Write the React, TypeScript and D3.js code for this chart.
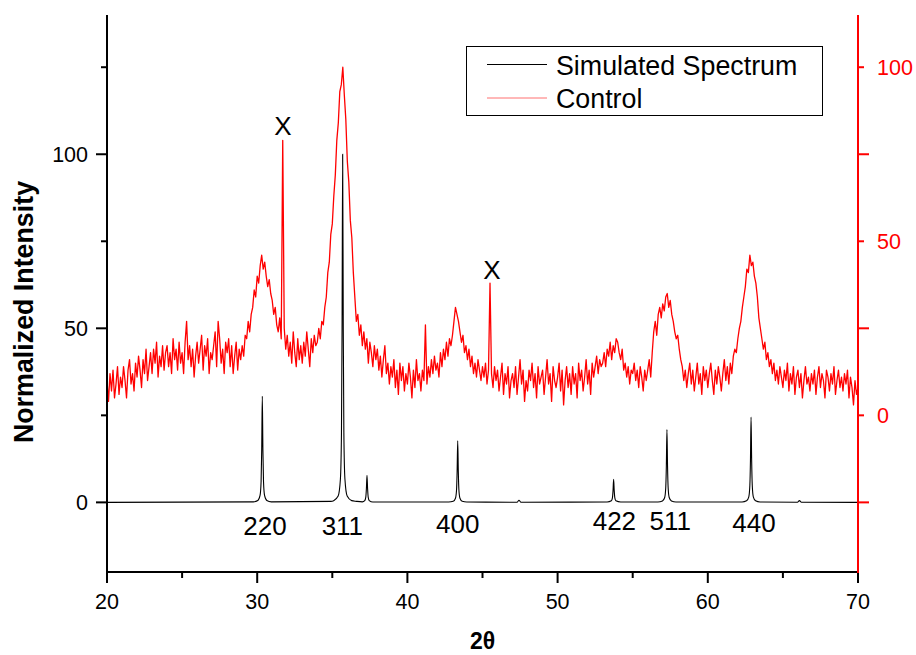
import React from "react";
import * as d3 from "d3";

// ---------- DATA ----------
// Simulated spectrum: [2θ, normalized intensity] (left axis)
const simulated: [number, number][] = [
  [20, 0], [29.74, 0.15], [30.04, 0.55], [30.19, 2], [30.26, 6], [30.3, 15], [30.34, 30.5], [30.38, 15], [30.42, 6], [30.49, 2], [30.64, 0.55], [30.94, 0.15],
  [34.9, 0.3], [35.09, 0.5], [35.39, 1.8], [35.54, 6.7], [35.61, 20], [35.65, 50], [35.69, 100], [35.73, 50], [35.77, 20], [35.84, 6.7], [35.99, 1.8], [36.29, 0.5], [36.6, 0.3],
  [37.0, 0.15], [37.16, 0.5], [37.23, 1.5], [37.27, 3.9], [37.31, 7.8], [37.35, 3.9], [37.39, 1.5], [37.46, 0.5], [37.7, 0.1],
  [42.75, 0.1], [43.05, 0.3], [43.2, 1.2], [43.27, 3.5], [43.31, 8.8], [43.35, 17.7], [43.39, 8.8], [43.43, 3.5], [43.5, 1.2], [43.65, 0.3], [43.95, 0.1],
  [47.3, 0.05], [47.43, 0.6], [47.56, 0.05],
  [53.3, 0.1], [53.58, 0.45], [53.65, 1.3], [53.69, 3.3], [53.73, 6.6], [53.77, 3.3], [53.81, 1.3], [53.88, 0.45], [54.2, 0.1],
  [56.68, 0.1], [56.98, 0.4], [57.13, 1.4], [57.2, 4.2], [57.24, 10.4], [57.28, 20.9], [57.32, 10.4], [57.36, 4.2], [57.43, 1.4], [57.58, 0.4], [57.88, 0.1],
  [62.28, 0.12], [62.58, 0.45], [62.73, 1.6], [62.8, 4.9], [62.84, 12], [62.88, 24.5], [62.92, 12], [62.96, 4.9], [63.03, 1.6], [63.18, 0.45], [63.48, 0.12],
  [65.97, 0.05], [66.1, 0.5], [66.23, 0.05], [70, 0],
];

// Control spectrum (right axis), sampled every 0.1° from 20° to 70°
const controlStart = 20;
const controlStep = 0.1;
const control: number[] = [
  10, 4, 12, 7, 13, 5, 9, 14, 6, 11, // 20
  8, 14, 10, 5, 13, 16, 9, 12, 7, 15, // 21
  11, 17, 13, 8, 16, 12, 19, 10, 14, 18, // 22
  12, 19, 15, 21, 11, 17, 14, 20, 13, 18, // 23
  20, 14, 18, 12, 22, 16, 19, 13, 21, 15, // 24
  18, 12, 21, 27, 16, 20, 14, 19, 11, 17, // 25
  21, 15, 19, 23, 13, 20, 17, 22, 12, 18, // 26
  16, 20, 24, 14, 27, 22, 15, 19, 12, 21, // 27
  18, 22, 14, 20, 12, 17, 21, 13, 19, 16, // 28
  20, 17, 23, 22, 27, 24, 29, 31, 36, 34, // 29
  40, 38, 43, 46, 42, 44, 40, 37, 39, 35, // 30
  33, 29, 31, 26, 24, 28, 22, 79, 25, 19, // 31
  23, 17, 21, 15, 24, 18, 14, 22, 16, 20, // 32
  15, 21, 17, 24, 19, 14, 22, 18, 23, 20, // 33
  21, 25, 22, 27, 26, 31, 34, 41, 44, 52, // 34
  55, 63, 69, 79, 84, 93, 95, 100, 92, 85, // 35
  73, 67, 56, 51, 41, 34, 27, 29, 23, 26, // 36
  20, 24, 19, 22, 15, 21, 18, 14, 20, 16, // 37
  19, 13, 17, 11, 16, 20, 12, 15, 9, 14, // 38
  11, 16, 8, 13, 6, 15, 10, 14, 7, 12, // 39
  9, 15, 11, 5, 13, 8, 16, 10, 12, 7, // 40
  13, 10, 26, 9, 14, 11, 16, 12, 17, 13, // 41
  15, 11, 18, 14, 19, 16, 21, 17, 22, 20, // 42
  23, 27, 31, 29, 27, 24, 21, 23, 18, 20, // 43
  16, 19, 14, 17, 12, 15, 11, 16, 13, 10, // 44
  14, 11, 15, 9, 13, 38, 12, 8, 14, 10, // 45
  13, 7, 11, 15, 6, 12, 9, 14, 5, 10, // 46
  12, 8, 14, 6, 11, 16, 9, 13, 4, 10, // 47
  7, 13, 10, 15, 8, 12, 5, 14, 9, 11, // 48
  13, 6, 11, 16, 9, 12, 4, 14, 10, 8, // 49
  11, 15, 7, 13, 3, 10, 14, 8, 12, 6, // 50
  14, 9, 12, 5, 15, 10, 13, 7, 11, 16, // 51
  9, 13, 6, 15, 11, 14, 17, 12, 16, 14, // 52
  15, 18, 14, 19, 17, 21, 16, 20, 18, 22, // 53
  21, 18, 16, 19, 13, 15, 11, 14, 9, 13, // 54
  12, 15, 10, 13, 8, 14, 11, 7, 13, 10, // 55
  13, 16, 11, 18, 24, 27, 23, 29, 31, 28, // 56
  32, 30, 34, 35, 31, 33, 29, 27, 24, 22, // 57
  23, 19, 16, 14, 10, 13, 8, 12, 15, 9, // 58
  13, 7, 11, 15, 9, 12, 6, 14, 10, 13, // 59
  8, 12, 15, 10, 6, 13, 9, 14, 11, 7, // 60
  12, 16, 10, 14, 9, 15, 12, 17, 19, 18, // 61
  22, 25, 27, 31, 34, 37, 42, 41, 46, 43, // 62
  44, 40, 38, 34, 28, 25, 22, 19, 21, 16, // 63
  18, 14, 16, 12, 15, 10, 13, 9, 14, 11, // 64
  8, 13, 10, 15, 7, 12, 9, 14, 6, 11, // 65
  13, 8, 12, 5, 10, 14, 9, 11, 7, 12, // 66
  9, 13, 6, 11, 14, 8, 12, 10, 5, 13, // 67
  11, 7, 12, 9, 14, 6, 10, 13, 8, 11, // 68
  7, 12, 9, 13, 5, 11, 8, 3, 10, 6, // 69
  8, // 70
];

// Peak annotations: [label, 2θ, left-axis value of text baseline]
const peakLabels: [string, number, number][] = [
  ["220", 30.52, -9.5],
  ["311", 35.67, -9.5],
  ["400", 43.35, -8.9],
  ["422", 53.78, -7.8],
  ["511", 57.5, -7.8],
  ["440", 63.08, -8.6],
  ["X", 31.72, 105.5],
  ["X", 45.62, 64.3],
];

const xTicks = [20, 30, 40, 50, 60, 70];
const xMinorTicks = [25, 35, 45, 55, 65];
const leftTicks = [0, 50, 100];
const leftMinorTicks = [25, 75, 125];
const rightTicks = [0, 50, 100];
const rightMinorTicks = [-25, 25, 75];

const legendItems = ["Simulated Spectrum", "Control"];

// ---------- CHART ----------
const W = 916;
const H = 655;
const L = 107, R = 858, T = 15, B = 572;
const FONT = "'Liberation Sans', Arial, sans-serif";
const RED = "#ff0000";

export default function App() {
  const x = d3.scaleLinear().domain([20, 70]).range([L, R]);
  const yL = d3.scaleLinear().domain([-20, 140]).range([B, T]);
  const yR = d3.scaleLinear().domain([-45, 115]).range([B, T]);

  const simLine = d3
    .line<[number, number]>()
    .x((d) => x(d[0]))
    .y((d) => yL(d[1]))
    .curve(d3.curveMonotoneX);

  const ctrlLine = d3
    .line<number>()
    .x((_, i) => x(controlStart + i * controlStep))
    .y((d) => yR(d));

  return (
    <svg
      width={W}
      height={H}
      style={{ position: "absolute", left: 0, top: 0, background: "#fff" }}
      fontFamily={FONT}
    >
      {/* Control (red) */}
      <path d={ctrlLine(control) || ""} fill="none" stroke={RED} strokeWidth={1.3} strokeLinejoin="round" />
      {/* Simulated (black) */}
      <path d={simLine(simulated) || ""} fill="none" stroke="#000" strokeWidth={1.1} />

      {/* Peak labels */}
      {peakLabels.map(([t, px, py], i) => (
        <text key={i} x={x(px)} y={yL(py)} fontSize={26} textAnchor="middle" fill="#000">
          {t}
        </text>
      ))}

      {/* Left axis */}
      <line x1={L} x2={L} y1={T} y2={B + 1} stroke="#000" strokeWidth={2} />
      {leftTicks.map((v) => (
        <g key={"lt" + v}>
          <line x1={L - 11} x2={L} y1={yL(v)} y2={yL(v)} stroke="#000" strokeWidth={2} />
          <text x={L - 19} y={yL(v)} dy="0.36em" fontSize={21.5} textAnchor="end">
            {v}
          </text>
        </g>
      ))}
      {leftMinorTicks.map((v) => (
        <line key={"lm" + v} x1={L - 6} x2={L} y1={yL(v)} y2={yL(v)} stroke="#000" strokeWidth={2} />
      ))}

      {/* Bottom axis */}
      <line x1={L - 1} x2={R + 1} y1={B} y2={B} stroke="#000" strokeWidth={2.2} />
      {xTicks.map((v) => (
        <g key={"xt" + v}>
          <line x1={x(v)} x2={x(v)} y1={B} y2={B + 11} stroke="#000" strokeWidth={2} />
          <text x={x(v)} y={609} fontSize={21.5} textAnchor="middle">
            {v}
          </text>
        </g>
      ))}
      {xMinorTicks.map((v) => (
        <line key={"xm" + v} x1={x(v)} x2={x(v)} y1={B} y2={B + 6} stroke="#000" strokeWidth={2} />
      ))}

      {/* Right axis (red) */}
      <line x1={R} x2={R} y1={T} y2={B + 1} stroke={RED} strokeWidth={2} />
      {rightTicks.map((v) => (
        <g key={"rt" + v}>
          <line x1={R} x2={R + 6} y1={yR(v)} y2={yR(v)} stroke={RED} strokeWidth={2} />
          <text x={877} y={yR(v)} dy="0.36em" fontSize={21.5} fill={RED}>
            {v}
          </text>
        </g>
      ))}
      {rightMinorTicks.map((v) => (
        <line key={"rm" + v} x1={R} x2={R + 11} y1={yR(v)} y2={yR(v)} stroke={RED} strokeWidth={2} />
      ))}

      {/* Axis titles */}
      <text
        transform={`translate(33,312) rotate(-90)`}
        fontSize={26.8}
        fontWeight="bold"
        textAnchor="middle"
      >
        Normalized Intensity
      </text>
      <text x={(L + R) / 2} y={649} fontSize={23} fontWeight="bold" textAnchor="middle">
        2θ
      </text>

      {/* Legend */}
      <rect x={466.5} y={46.5} width={356} height={69} fill="#fff" stroke="#000" strokeWidth={1} />
      <line x1={487} x2={547} y1={64.5} y2={64.5} stroke="#000" strokeWidth={1} />
      <line x1={487} x2={547} y1={98} y2={98} stroke="#ff7070" strokeWidth={1} />
      <text x={556} y={75} fontSize={26.8}>
        {legendItems[0]}
      </text>
      <text x={556} y={108} fontSize={26.8}>
        {legendItems[1]}
      </text>
    </svg>
  );
}
